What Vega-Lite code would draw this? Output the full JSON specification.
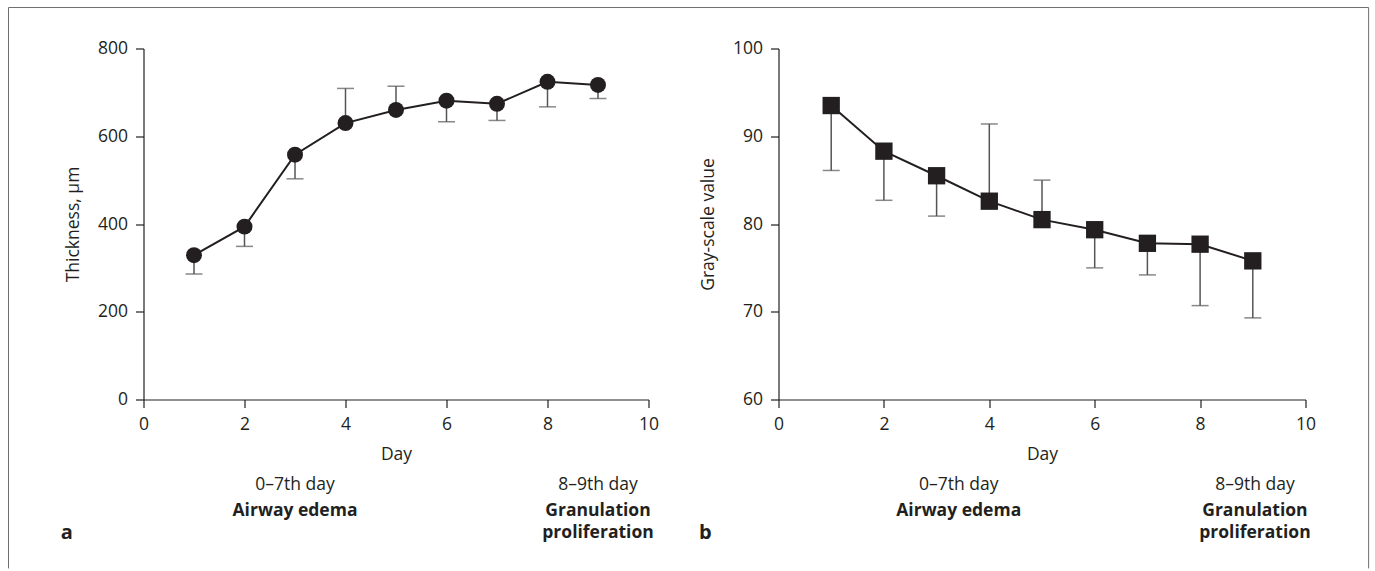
{
  "$schema": "https://vega.github.io/schema/vega-lite/v6.json",
  "background": "white",
  "padding": {"left": 7.5, "top": 6.5, "right": 5, "bottom": 0},
  "bounds": "flush",
  "spacing": 130,
  "config": {
    "font": "Open Sans",
    "view": {"stroke": null},
    "axis": {
      "grid": false,
      "domainColor": "#231f20",
      "tickColor": "#231f20",
      "labelColor": "#231f20",
      "titleColor": "#231f20",
      "labelFont": "Open Sans",
      "titleFont": "Open Sans",
      "labelFontSize": 17.5,
      "titleFontSize": 17.5,
      "titleFontWeight": "normal",
      "tickSize": 8,
      "domainWidth": 1.2,
      "tickWidth": 1.2
    },
    "axisY": {"labelPadding": 8, "titlePadding": 15},
    "axisX": {"labelPadding": 8, "titlePadding": 12, "labelFlush": false}
  },
  "datasets": {
    "thickness": [
      {"day": 1, "mean": 329, "end": 286},
      {"day": 2, "mean": 394, "end": 349},
      {"day": 3, "mean": 558, "end": 503},
      {"day": 4, "mean": 630, "end": 709},
      {"day": 5, "mean": 660, "end": 714},
      {"day": 6, "mean": 681, "end": 633},
      {"day": 7, "mean": 674, "end": 636},
      {"day": 8, "mean": 724, "end": 667},
      {"day": 9, "mean": 717, "end": 686}
    ],
    "grayscale": [
      {"day": 1, "mean": 93.5, "end": 86.1},
      {"day": 2, "mean": 88.3, "end": 82.7},
      {"day": 3, "mean": 85.5, "end": 80.9},
      {"day": 4, "mean": 82.6, "end": 91.4},
      {"day": 5, "mean": 80.5, "end": 85.0},
      {"day": 6, "mean": 79.35, "end": 75.0},
      {"day": 7, "mean": 77.8, "end": 74.2},
      {"day": 8, "mean": 77.7, "end": 70.7},
      {"day": 9, "mean": 75.8, "end": 69.3}
    ],
    "notesA": [
      {"day": 3, "pos": -196, "text": "0–7th day", "kind": "period"},
      {"day": 3, "pos": -253, "text": "Airway edema", "kind": "phase"},
      {"day": 9, "pos": -196, "text": "8–9th day", "kind": "period"},
      {"day": 9, "pos": -253, "text": "Granulation", "kind": "phase"},
      {"day": 9, "pos": -305, "text": "proliferation", "kind": "phase"},
      {"day": -1.52, "pos": -305, "text": "a", "kind": "panel"}
    ],
    "notesB": [
      {"day": 3.42, "pos": 50.2, "text": "0–7th day", "kind": "period"},
      {"day": 3.42, "pos": 47.35, "text": "Airway edema", "kind": "phase"},
      {"day": 9.04, "pos": 50.2, "text": "8–9th day", "kind": "period"},
      {"day": 9.04, "pos": 47.35, "text": "Granulation", "kind": "phase"},
      {"day": 9.04, "pos": 44.73, "text": "proliferation", "kind": "phase"},
      {"day": -1.39, "pos": 44.73, "text": "b", "kind": "panel"}
    ],
    "frame": [{"name": "figure border"}]
  },
  "hconcat": [
    {
      "width": 505,
      "height": 351,
      "layer": [
        {
          "data": {"name": "frame"},
          "mark": {"type": "rule", "color": "#6d6e71", "strokeWidth": 1},
          "encoding": {
            "x": {"datum": -2.673, "type": "quantitative", "scale": {"domain": [0, 10], "nice": false}},
            "y": {"datum": 893.4, "type": "quantitative", "scale": {"domain": [0, 800], "nice": false}},
            "y2": {"datum": -385}
          }
        },
        {
          "data": {"name": "frame"},
          "mark": {"type": "rule", "color": "#6d6e71", "strokeWidth": 1},
          "encoding": {
            "x": {"datum": 24.26, "type": "quantitative"},
            "y": {"datum": 893.4, "type": "quantitative"},
            "y2": {"datum": -385}
          }
        },
        {
          "data": {"name": "frame"},
          "mark": {"type": "rule", "color": "#6d6e71", "strokeWidth": 1},
          "encoding": {
            "x": {"datum": -2.673, "type": "quantitative"},
            "x2": {"datum": 24.26},
            "y": {"datum": 893.4, "type": "quantitative"}
          }
        },
        {
          "data": {"name": "thickness"},
          "mark": {"type": "rule", "color": "#555555", "strokeWidth": 1.5},
          "encoding": {
            "x": {"field": "day", "type": "quantitative", "scale": {"domain": [0, 10], "nice": false},
                  "axis": {"values": [0, 2, 4, 6, 8, 10], "title": "Day"}},
            "y": {"field": "mean", "type": "quantitative", "scale": {"domain": [0, 800], "nice": false},
                  "axis": {"values": [0, 200, 400, 600, 800], "title": "Thickness, μm"}},
            "y2": {"field": "end"}
          }
        },
        {
          "data": {"name": "thickness"},
          "mark": {"type": "tick", "orient": "horizontal", "color": "#555555", "thickness": 1.5, "size": 17},
          "encoding": {
            "x": {"field": "day", "type": "quantitative"},
            "y": {"field": "end", "type": "quantitative"}
          }
        },
        {
          "data": {"name": "thickness"},
          "mark": {"type": "line", "color": "#231f20", "strokeWidth": 2},
          "encoding": {
            "x": {"field": "day", "type": "quantitative"},
            "y": {"field": "mean", "type": "quantitative"}
          }
        },
        {
          "data": {"name": "thickness"},
          "mark": {"type": "point", "shape": "circle", "filled": true, "color": "#231f20", "opacity": 1, "size": 255},
          "encoding": {
            "x": {"field": "day", "type": "quantitative"},
            "y": {"field": "mean", "type": "quantitative"}
          }
        },
        {
          "data": {"name": "notesA"},
          "transform": [{"filter": "datum.kind == 'period'"}],
          "mark": {"type": "text", "fontSize": 17.5, "color": "#231f20", "baseline": "middle", "align": "center"},
          "encoding": {
            "x": {"field": "day", "type": "quantitative"},
            "y": {"field": "pos", "type": "quantitative"},
            "text": {"field": "text"}
          }
        },
        {
          "data": {"name": "notesA"},
          "transform": [{"filter": "datum.kind == 'phase'"}],
          "mark": {"type": "text", "fontSize": 17.5, "fontWeight": "bold", "color": "#231f20", "baseline": "middle", "align": "center"},
          "encoding": {
            "x": {"field": "day", "type": "quantitative"},
            "y": {"field": "pos", "type": "quantitative"},
            "text": {"field": "text"}
          }
        },
        {
          "data": {"name": "notesA"},
          "transform": [{"filter": "datum.kind == 'panel'"}],
          "mark": {"type": "text", "fontSize": 20, "fontWeight": "bold", "color": "#231f20", "baseline": "middle", "align": "center"},
          "encoding": {
            "x": {"field": "day", "type": "quantitative"},
            "y": {"field": "pos", "type": "quantitative"},
            "text": {"field": "text"}
          }
        }
      ]
    },
    {
      "width": 527,
      "height": 351,
      "layer": [
        {
          "data": {"name": "grayscale"},
          "mark": {"type": "rule", "color": "#555555", "strokeWidth": 1.5},
          "encoding": {
            "x": {"field": "day", "type": "quantitative", "scale": {"domain": [0, 10], "nice": false},
                  "axis": {"values": [0, 2, 4, 6, 8, 10], "title": "Day"}},
            "y": {"field": "mean", "type": "quantitative", "scale": {"domain": [60, 100], "nice": false, "zero": false},
                  "axis": {"values": [60, 70, 80, 90, 100], "title": "Gray-scale value"}},
            "y2": {"field": "end"}
          }
        },
        {
          "data": {"name": "grayscale"},
          "mark": {"type": "tick", "orient": "horizontal", "color": "#555555", "thickness": 1.5, "size": 17},
          "encoding": {
            "x": {"field": "day", "type": "quantitative"},
            "y": {"field": "end", "type": "quantitative"}
          }
        },
        {
          "data": {"name": "grayscale"},
          "mark": {"type": "line", "color": "#231f20", "strokeWidth": 2},
          "encoding": {
            "x": {"field": "day", "type": "quantitative"},
            "y": {"field": "mean", "type": "quantitative"}
          }
        },
        {
          "data": {"name": "grayscale"},
          "mark": {"type": "point", "shape": "square", "filled": true, "color": "#231f20", "opacity": 1, "size": 300},
          "encoding": {
            "x": {"field": "day", "type": "quantitative"},
            "y": {"field": "mean", "type": "quantitative"}
          }
        },
        {
          "data": {"name": "notesB"},
          "transform": [{"filter": "datum.kind == 'period'"}],
          "mark": {"type": "text", "fontSize": 17.5, "color": "#231f20", "baseline": "middle", "align": "center"},
          "encoding": {
            "x": {"field": "day", "type": "quantitative"},
            "y": {"field": "pos", "type": "quantitative"},
            "text": {"field": "text"}
          }
        },
        {
          "data": {"name": "notesB"},
          "transform": [{"filter": "datum.kind == 'phase'"}],
          "mark": {"type": "text", "fontSize": 17.5, "fontWeight": "bold", "color": "#231f20", "baseline": "middle", "align": "center"},
          "encoding": {
            "x": {"field": "day", "type": "quantitative"},
            "y": {"field": "pos", "type": "quantitative"},
            "text": {"field": "text"}
          }
        },
        {
          "data": {"name": "notesB"},
          "transform": [{"filter": "datum.kind == 'panel'"}],
          "mark": {"type": "text", "fontSize": 20, "fontWeight": "bold", "color": "#231f20", "baseline": "middle", "align": "center"},
          "encoding": {
            "x": {"field": "day", "type": "quantitative"},
            "y": {"field": "pos", "type": "quantitative"},
            "text": {"field": "text"}
          }
        }
      ]
    }
  ]
}
